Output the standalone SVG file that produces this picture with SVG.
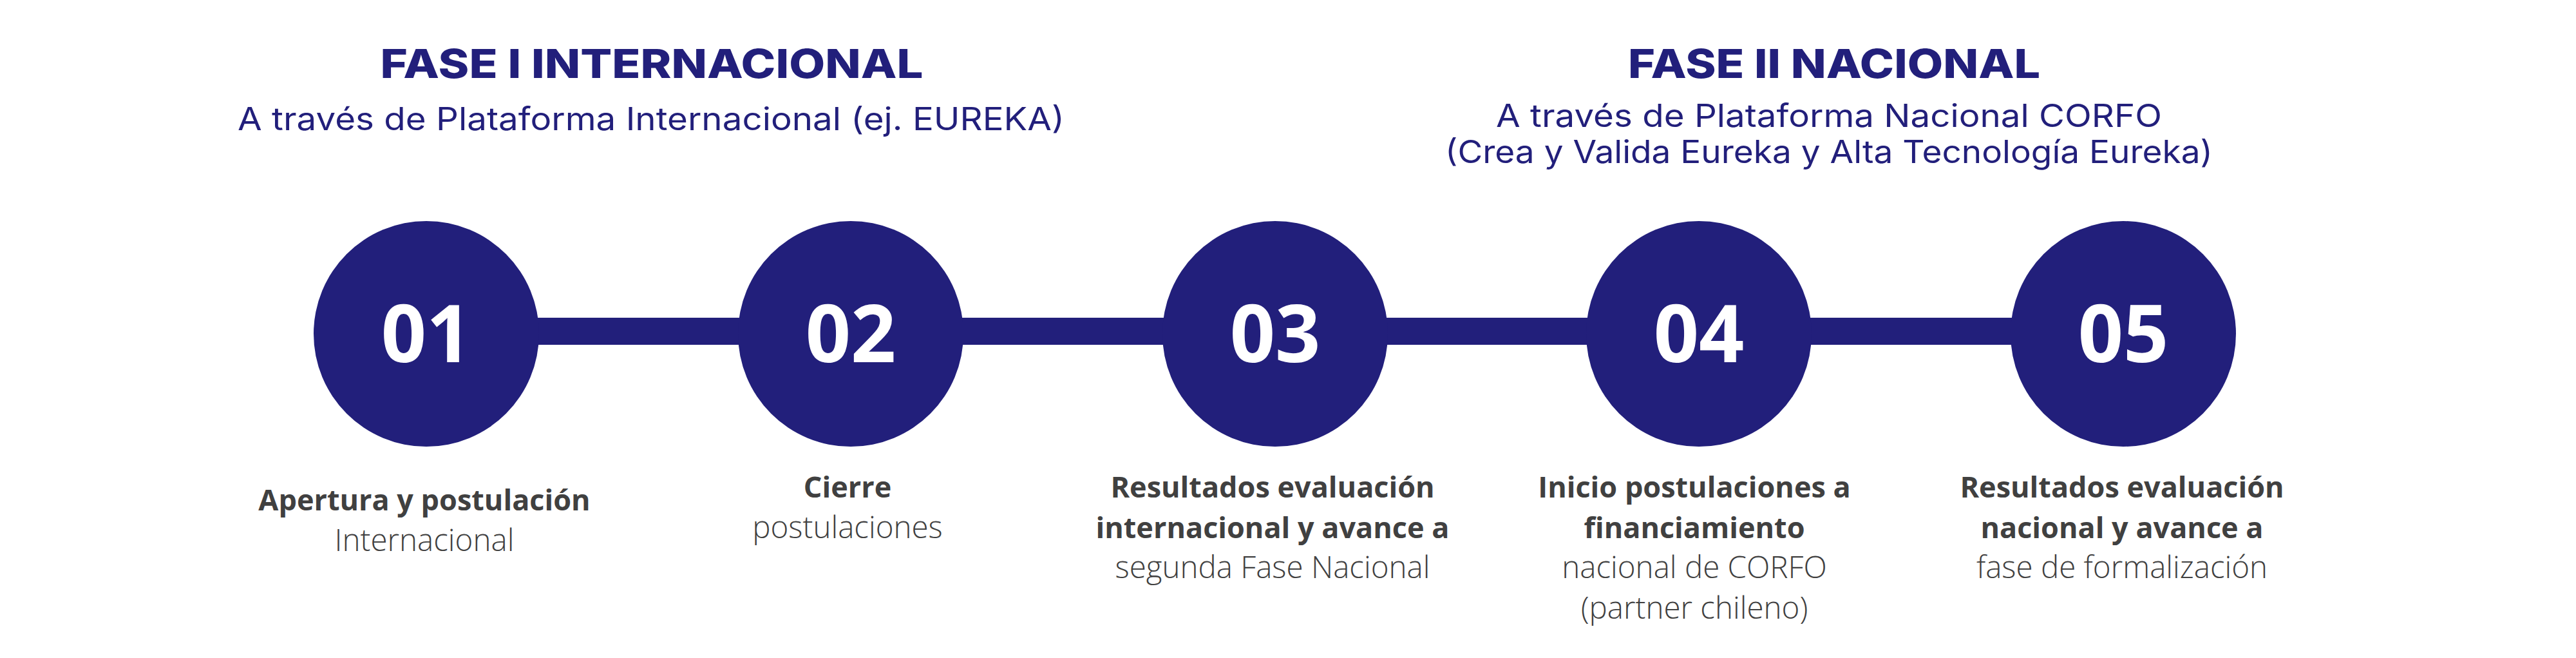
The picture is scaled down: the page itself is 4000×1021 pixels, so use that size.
<svg xmlns="http://www.w3.org/2000/svg" width="4000" height="1021" viewBox="0 0 4000 1021">
<style>
.bg{fill:#ffffff}
.title{font-family:Inter,"Liberation Sans",sans-serif;font-weight:800;font-size:62px;fill:#221f7b;text-anchor:middle}
.sub{font-family:Inter,"Liberation Sans",sans-serif;font-weight:400;font-size:49px;fill:#221f7b;text-anchor:middle}
.circ{fill:#221f7b}
.num{font-family:"Open Sans","Noto Sans",sans-serif;font-weight:700;font-size:123px;fill:#ffffff;text-anchor:middle}
.lb{font-family:"Open Sans","Noto Sans",sans-serif;font-weight:700;font-size:45px;fill:#404040;text-anchor:middle}
.lr{font-family:"Open Sans","Noto Sans",sans-serif;font-weight:300;font-size:47.5px;fill:#404040;text-anchor:middle}
.conn{stroke:#221f7b;stroke-width:42;fill:none}
</style>
<rect class="bg" x="0" y="0" width="4000" height="1021"/>
<g id="headers">
<text class="title" x="1012" y="121" textLength="843" lengthAdjust="spacingAndGlyphs">FASE I INTERNACIONAL</text>
<text class="sub" x="1011" y="202" textLength="1284" lengthAdjust="spacingAndGlyphs">A través de Plataforma Internacional (ej. EUREKA)</text>
<text class="title" x="2848" y="121" textLength="640" lengthAdjust="spacingAndGlyphs">FASE II NACIONAL</text>
<text class="sub" x="2840" y="197" textLength="1034" lengthAdjust="spacingAndGlyphs">A través de Plataforma Nacional CORFO</text>
<text class="sub" x="2840" y="253" textLength="1192" lengthAdjust="spacingAndGlyphs">(Crea y Valida Eureka y Alta Tecnología Eureka)</text>
</g>
<g id="connectors">
<line class="conn" x1="662" y1="514" x2="3297" y2="514"/>
</g>
<g id="step1">
<circle class="circ" cx="662" cy="518" r="175"/>
<text class="num" x="662" y="562">01</text>
<text class="lb" x="659" y="792">Apertura y postulación</text>
<text class="lr" x="659" y="855">Internacional</text>
</g>
<g id="step2">
<circle class="circ" cx="1321" cy="518" r="175"/>
<text class="num" x="1321" y="562">02</text>
<text class="lb" x="1316" y="772">Cierre</text>
<text class="lr" x="1316" y="835">postulaciones</text>
</g>
<g id="step3">
<circle class="circ" cx="1980" cy="518" r="175"/>
<text class="num" x="1980" y="562">03</text>
<text class="lb" x="1976" y="772">Resultados evaluación</text>
<text class="lb" x="1976" y="835">internacional y avance a</text>
<text class="lr" x="1976" y="897">segunda Fase Nacional</text>
</g>
<g id="step4">
<circle class="circ" cx="2638" cy="518" r="175"/>
<text class="num" x="2638" y="562">04</text>
<text class="lb" x="2631" y="772">Inicio postulaciones a</text>
<text class="lb" x="2631" y="835">financiamiento</text>
<text class="lr" x="2631" y="897">nacional de CORFO</text>
<text class="lr" x="2631" y="960">(partner chileno)</text>
</g>
<g id="step5">
<circle class="circ" cx="3297" cy="518" r="175"/>
<text class="num" x="3297" y="562">05</text>
<text class="lb" x="3295" y="772">Resultados evaluación</text>
<text class="lb" x="3295" y="835">nacional y avance a</text>
<text class="lr" x="3295" y="897">fase de formalización</text>
</g>
</svg>
